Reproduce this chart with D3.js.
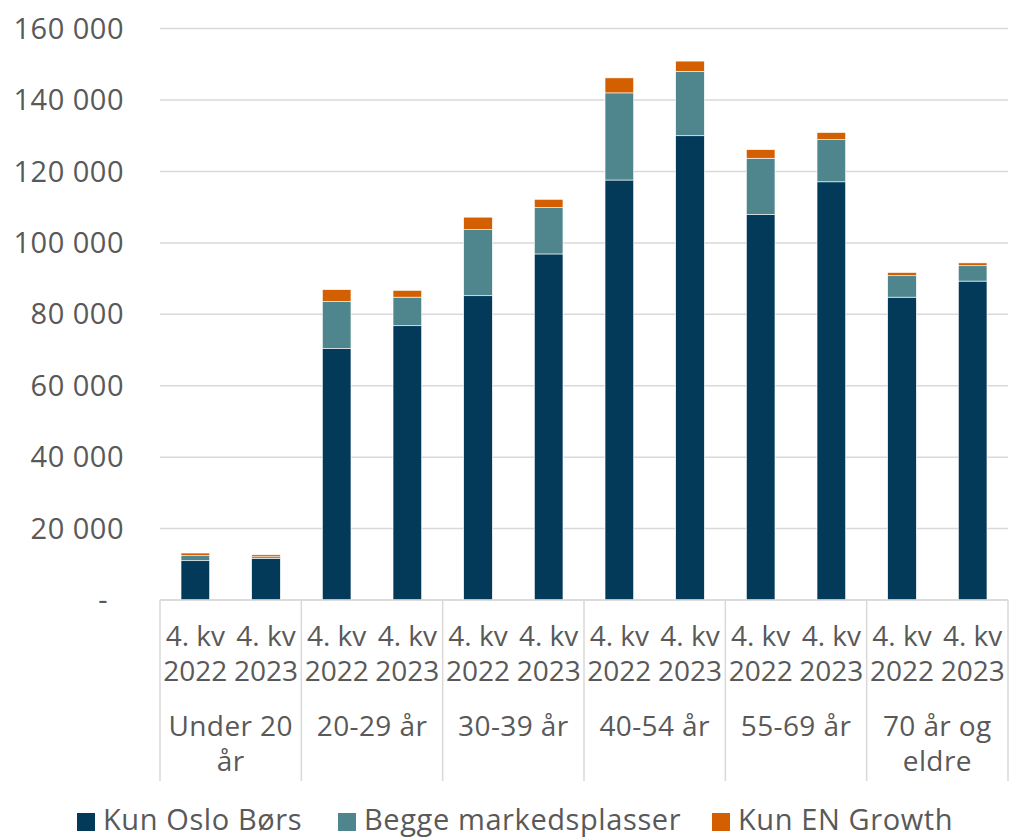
<!DOCTYPE html>
<html>
<head>
<meta charset="utf-8">
<script src="https://cdn.jsdelivr.net/npm/d3@7"></script>
<style>
  html, body { margin: 0; padding: 0; background: #fff; }
  svg { display: block; }
  text { font-family: "Open Sans", sans-serif; fill: #595959; }
</style>
</head>
<body>
<svg id="chart" width="1010" height="838"></svg>
<script>
const groups = ["Under 20 år", "20-29 år", "30-39 år", "40-54 år", "55-69 år", "70 år og eldre"];
const groupLines = [["Under 20", "år"], ["20-29 år"], ["30-39 år"], ["40-54 år"], ["55-69 år"], ["70 år og", "eldre"]];
const periods = ["4. kv 2022", "4. kv 2023"];
const periodLines = [["4. kv", "2022"], ["4. kv", "2023"]];
const seriesNames = ["Kun Oslo Børs", "Begge markedsplasser", "Kun EN Growth"];
const seriesColors = ["#033A5A", "#4F868E", "#D45F00"];
const kunOslo = [11000, 11600, 70400, 76800, 85200, 96900, 117600, 130000, 107900, 117100, 84800, 89300];
const begge   = [1400, 500, 13200, 8000, 18500, 13000, 24400, 18000, 15800, 11800, 6000, 4300];
const kunEN   = [750, 550, 3300, 1900, 3500, 2300, 4200, 2900, 2400, 2000, 900, 800];
const yTicks = [0, 20000, 40000, 60000, 80000, 100000, 120000, 140000, 160000];

const svg = d3.select("#chart");
const M = { left: 160, right: 1008, top: 28.6, bottom: 600 };
const fs = 29;

const keys = [];
groups.forEach((g, gi) => periods.forEach((p, pi) => keys.push(gi + "|" + pi)));
const rows = keys.map((k, i) => ({ key: k, g: +k.split("|")[0], p: +k.split("|")[1], v0: kunOslo[i], v1: begge[i], v2: kunEN[i] }));

const x = d3.scaleBand().domain(keys).range([M.left, M.right]).paddingInner(0.595).paddingOuter(0.2975);
const xg = d3.scaleBand().domain(groups).range([M.left, M.right]).padding(0);
const y = d3.scaleLinear().domain([0, 160000]).range([M.bottom, M.top]);

// gridlines
svg.append("g").selectAll("line").data(yTicks).join("line")
  .attr("x1", M.left).attr("x2", M.right)
  .attr("y1", d => y(d)).attr("y2", d => y(d))
  .attr("stroke", "#d9d9d9").attr("stroke-width", 1.5);

// y labels
const fmt = d => d === 0 ? "-" : d3.format(",")(d).replace(/,/g, " ");
svg.append("g").selectAll("text").data(yTicks).join("text")
  .attr("x", d => d === 0 ? 108 : 124).attr("y", d => y(d))
  .attr("dy", "0.35em").attr("text-anchor", "end")
  .attr("letter-spacing", "0.5px")
  .attr("font-size", fs).text(fmt);

// stacked bars
const stack = d3.stack().keys(["v0", "v1", "v2"]);
const stacked = stack(rows);
svg.append("g").selectAll("g").data(stacked).join("g")
  .attr("fill", (d, i) => seriesColors[i])
  .selectAll("rect").data(d => d).join("rect")
  .attr("x", d => x(d.data.key))
  .attr("width", x.bandwidth())
  .attr("y", d => y(d[1]))
  .attr("height", d => y(d[0]) - y(d[1]))
  .attr("stroke", "#ffffff").attr("stroke-width", 0.6);

// x axis baseline and group dividers
const axisG = svg.append("g");
axisG.append("line").attr("x1", M.left).attr("x2", M.right).attr("y1", M.bottom).attr("y2", M.bottom)
  .attr("stroke", "#d9d9d9").attr("stroke-width", 1.5);
const bounds = groups.map(g => xg(g)).concat([M.right]);
axisG.selectAll("line.div").data(bounds).join("line").attr("class", "div")
  .attr("x1", d => d).attr("x2", d => d).attr("y1", M.bottom).attr("y2", 781)
  .attr("stroke", "#d9d9d9").attr("stroke-width", 1.5);

// period labels (one text element per label, lines as tspans)
const pl = svg.append("g");
rows.forEach(r => {
  const cx = x(r.key) + x.bandwidth() / 2;
  const t = pl.append("text").attr("x", cx).attr("y", 646)
    .attr("text-anchor", "middle").attr("font-size", 28);
  periodLines[r.p].forEach((ln, li) => {
    t.append("tspan").attr("x", cx).attr("dy", li === 0 ? 0 : 35).text(ln);
  });
});

// group labels
const gl = svg.append("g");
groups.forEach((g, gi) => {
  const cx = xg(g) + xg.bandwidth() / 2;
  const t = gl.append("text").attr("x", cx).attr("y", 736)
    .attr("text-anchor", "middle").attr("font-size", 28).attr("letter-spacing", "0.4px");
  groupLines[gi].forEach((ln, li) => {
    t.append("tspan").attr("x", cx).attr("dy", li === 0 ? 0 : 35).text(ln);
  });
});

// legend
const legX = [77, 338, 712];
const leg = svg.append("g");
seriesNames.forEach((n, i) => {
  leg.append("rect").attr("x", legX[i]).attr("y", 813).attr("width", 18).attr("height", 18).attr("fill", seriesColors[i]);
  leg.append("text").attr("x", legX[i] + 26).attr("y", 830).attr("font-size", fs)
    .attr("letter-spacing", "0.6px").text(n);
});
</script>
</body>
</html>
